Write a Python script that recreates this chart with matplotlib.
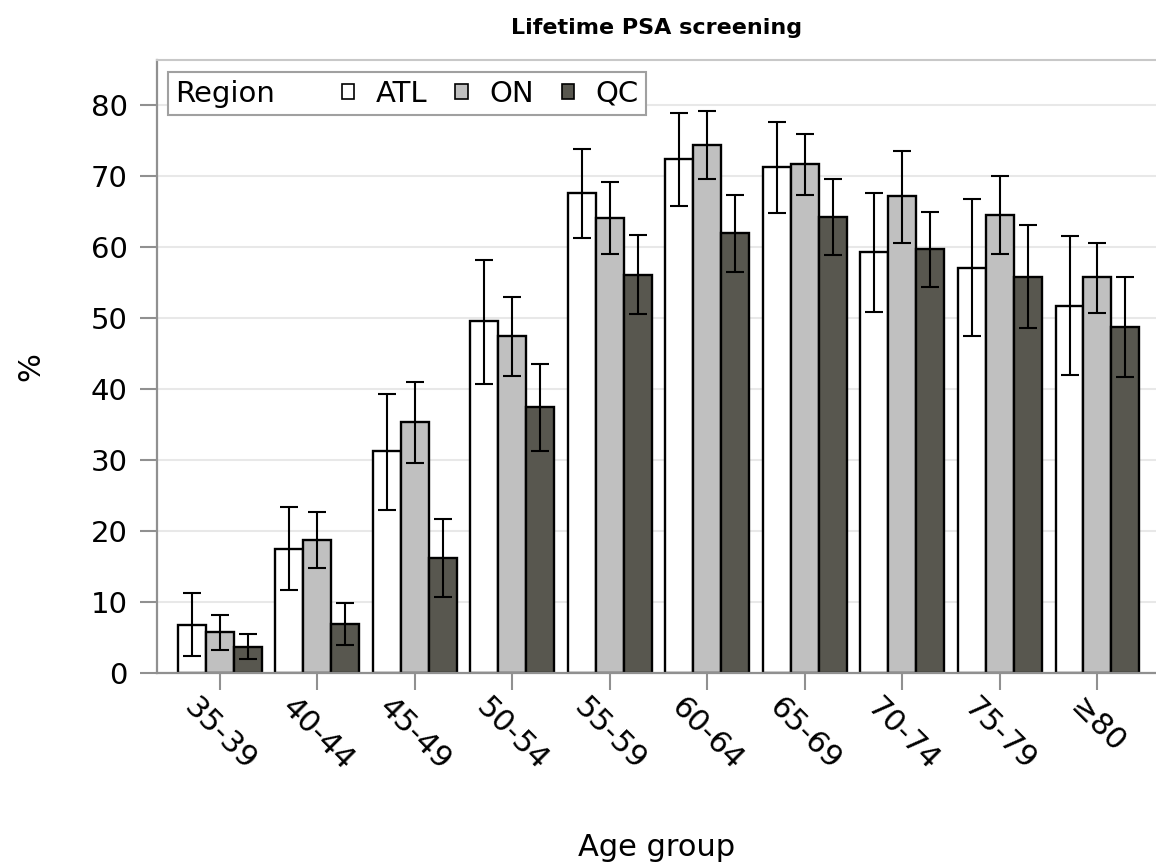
import matplotlib
matplotlib.use("Agg")
import matplotlib.pyplot as plt
import numpy as np
from matplotlib.patches import Patch
from matplotlib.offsetbox import HPacker

plt.rcParams['font.family'] = ['DejaVu Sans']

# datos
grupos = ["35-39", "40-44", "45-49", "50-54", "55-59", "60-64", "65-69", "70-74", "75-79", "≥80"]
regiones = ["ATL", "ON", "QC"]

atl = [6.8, 17.5, 31.2, 49.5, 67.6, 72.3, 71.2, 59.2, 57.0, 51.7]
atl_lo = [2.4, 11.7, 23.0, 40.7, 61.3, 65.8, 64.8, 50.8, 47.4, 42.0]
atl_hi = [11.2, 23.3, 39.3, 58.2, 73.7, 78.9, 77.6, 67.6, 66.7, 61.5]

on = [5.8, 18.7, 35.3, 47.4, 64.0, 74.3, 71.6, 67.1, 64.5, 55.7]
on_lo = [3.3, 14.8, 29.5, 41.8, 59.0, 69.6, 67.3, 60.6, 59.0, 50.7]
on_hi = [8.2, 22.7, 41.0, 53.0, 69.1, 79.1, 75.9, 73.5, 69.9, 60.6]

qc = [3.7, 6.9, 16.2, 37.4, 56.1, 61.9, 64.2, 59.7, 55.8, 48.7]
qc_lo = [2.0, 4.0, 10.7, 31.3, 50.5, 56.5, 58.9, 54.4, 48.5, 41.7]
qc_hi = [5.5, 9.8, 21.7, 43.5, 61.7, 67.3, 69.6, 64.9, 63.0, 55.7]

colores = ["#ffffff", "#c0c0c0", "#58574f"]

fig = plt.figure(figsize=(11.56, 8.67), dpi=100)
ax = fig.add_axes([0.1358, 0.2238, 0.8642, 0.707])

x = np.arange(len(grupos))
ancho = 0.287
series = [(atl, atl_lo, atl_hi), (on, on_lo, on_hi), (qc, qc_lo, qc_hi)]
for i, (v, lo, hi) in enumerate(series):
    pos = x + (i - 1) * ancho
    v = np.array(v)
    ax.bar(pos, v, ancho, color=colores[i], edgecolor="black", linewidth=1.7, zorder=2)
    err = [v - np.array(lo), np.array(hi) - v]
    ax.errorbar(pos, v, yerr=err, fmt="none", ecolor="black", elinewidth=1.5,
                capsize=6.5, capthick=1.5, zorder=3)

ax.set_xlim(-0.645, 9.6)
ax.set_ylim(0, 86.3)
ax.set_yticks(range(0, 81, 10))
ax.set_xticks(x)
ax.set_xticklabels(grupos, rotation=-45, ha="center")
ax.yaxis.grid(True, color="#e8e8e8", linewidth=1.5, zorder=0)
ax.set_axisbelow(True)

for s in ["left", "bottom"]:
    ax.spines[s].set_color("#909090")
    ax.spines[s].set_linewidth(1.6)
ax.spines["top"].set_color("#c8c8c8")
ax.spines["top"].set_linewidth(1.5)
ax.spines["right"].set_visible(False)
ax.tick_params(axis="both", length=12, width=1.5, color="#909090", labelsize=21)
ax.tick_params(axis="y", pad=9)
ax.tick_params(axis="x", pad=2, labelsize=22)

ax.set_xlabel("Age group", fontsize=22, labelpad=41)
ax.set_ylabel("%", fontsize=22, labelpad=33)
ax.set_title("Lifetime PSA screening", fontsize=16, fontweight="bold", pad=19)

handles = [Patch(facecolor=c, edgecolor="black", linewidth=1.2) for c in colores]
leg = ax.legend(handles, regiones, title="Region", ncol=3, fontsize=21, title_fontsize=21,
                loc="upper left", bbox_to_anchor=(0.011, 0.98), borderaxespad=0,
                fancybox=False, framealpha=1, edgecolor="#a0a0a0",
                handlelength=0.42, handleheight=0.42, handletextpad=0.75,
                columnspacing=0.95, borderpad=0.25)
leg.get_frame().set_linewidth(1.5)
# poner el titulo a la izquierda de las entradas
caja = leg._legend_box
titulo, entradas = caja.get_children()
caja._children = [HPacker(children=[titulo, entradas], align="center", pad=0, sep=48)]

fig.savefig("out.png", dpi=100)
